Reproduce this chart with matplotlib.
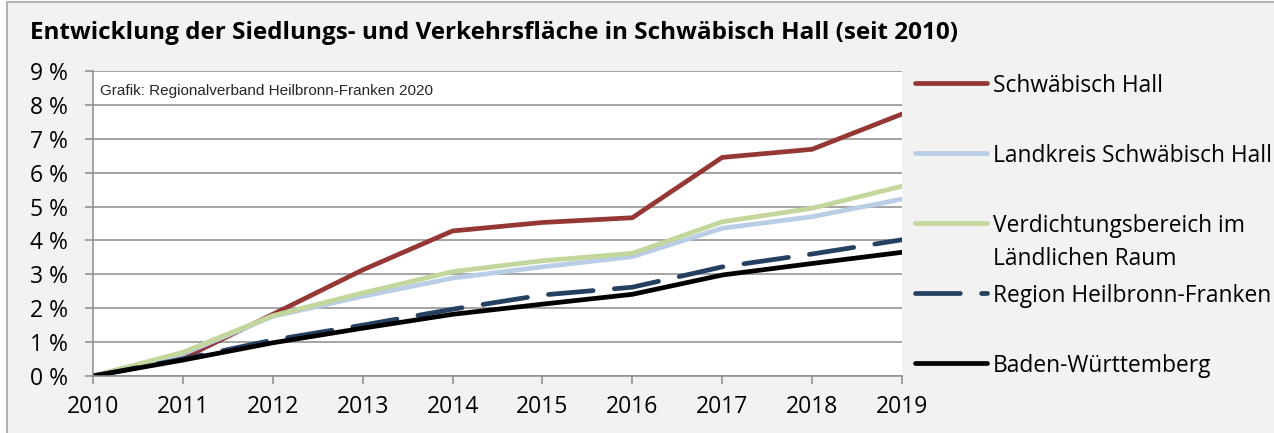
"""
Entwicklung der Siedlungs- und Verkehrsfläche in Schwäbisch Hall
"""
import matplotlib
matplotlib.use("Agg")
import matplotlib.pyplot as plt
from matplotlib.lines import Line2D
from matplotlib.patches import Rectangle

plt.rcParams['font.family'] = ['Open Sans', 'DejaVu Sans']

# Daten (Zuwachs seit 2010 in %)
jahre = [2010, 2011, 2012, 2013, 2014, 2015, 2016, 2017, 2018, 2019]
schwaebisch_hall = [0, 0.52, 1.82, 3.13, 4.28, 4.53, 4.67, 6.45, 6.69, 7.73]
landkreis_sha = [0, 0.65, 1.76, 2.35, 2.89, 3.22, 3.52, 4.36, 4.70, 5.22]
verdichtungsbereich = [0, 0.70, 1.78, 2.45, 3.08, 3.40, 3.62, 4.55, 4.95, 5.60]
region_hnf = [0, 0.50, 1.06, 1.50, 1.97, 2.39, 2.62, 3.22, 3.60, 4.02]
baden_wuerttemberg = [0, 0.47, 0.98, 1.41, 1.82, 2.12, 2.41, 2.98, 3.32, 3.65]

y_ticks = list(range(0, 10))
y_labels = [f'{v} %' for v in y_ticks]

serien = [
    ('Schwäbisch Hall', schwaebisch_hall, '#953735', '-'),
    ('Landkreis Schwäbisch Hall', landkreis_sha, '#b9cde5', '-'),
    ('Verdichtungsbereich im\nLändlichen Raum', verdichtungsbereich, '#c3d69b', '-'),
    ('Region Heilbronn-Franken', region_hnf, '#254061', '--'),
    ('Baden-Württemberg', baden_wuerttemberg, '#000000', '-'),
]

W, H = 1274, 433
fig = plt.figure(figsize=(W / 100, H / 100), dpi=100)
fig.patch.set_facecolor('white')

# Rahmen des Diagrammbereichs
fig.add_artist(Rectangle((7 / W, -0.05), 1.1, 1 - 2 / H + 0.05,
                         transform=fig.transFigure, facecolor='#f2f2f2',
                         edgecolor='#a6a6a6', linewidth=1.2, zorder=0))

ax = fig.add_axes([93 / W, 1 - 376 / H, (902 - 93) / W, (376 - 71) / H])
ax.set_facecolor('white')

for name, werte, farbe, stil in serien:
    line, = ax.plot(jahre, werte, color=farbe, linewidth=3.4,
                    solid_capstyle='round', dash_capstyle='round')
    if stil == '--':
        line.set_dashes((9.5, 4.5))

ax.set_xlim(2010, 2019)
ax.set_ylim(0, 9)
ax.set_xticks(jahre)
ax.set_yticks(y_ticks)
ax.set_yticklabels(y_labels)
ax.grid(axis='y', color='#8c8c8c', linewidth=1.1)
ax.set_axisbelow(True)

for side in ['top', 'right']:
    ax.spines[side].set_visible(False)
for side in ['left', 'bottom']:
    ax.spines[side].set_color('#8c8c8c')
    ax.spines[side].set_linewidth(1.1)
ax.tick_params(axis='both', direction='out', length=5.8, width=1.1,
               color='#8c8c8c', labelsize=16.5, labelcolor='black')
ax.tick_params(axis='y', pad=12)
ax.tick_params(axis='x', pad=8)

# Quellenangabe
ax.text(0.009, 0.935, 'Grafik: Regionalverband Heilbronn-Franken 2020',
        transform=ax.transAxes, fontsize=11, family=['Liberation Sans'],
        color='#262626', va='center', ha='left',
        bbox=dict(facecolor='white', edgecolor='none', pad=1.5))

fig.text(30 / W, 1 - 33 / H,
         'Entwicklung der Siedlungs- und Verkehrsfläche in Schwäbisch Hall (seit 2010)',
         fontsize=17.5, fontweight='bold', va='center', ha='left')

# Legende
legend_y = [83, 153, 223, 293, 363]
for (name, werte, farbe, stil), ly in zip(serien, legend_y):
    yf = 1 - ly / H
    handle = Line2D([915 / W, 987 / W], [yf, yf], transform=fig.transFigure,
                    color=farbe, linewidth=3.4, solid_capstyle='round',
                    dash_capstyle='round')
    if stil == '--':
        handle.set_dashes((9.5, 4.5))
    fig.add_artist(handle)
    zeilen = name.split('\n')
    for i, zeile in enumerate(zeilen):
        fig.text(993 / W, yf - i * 33 / H, zeile, fontsize=16.4,
                 va='center_baseline', ha='left')

fig.savefig('out.png', dpi=100)
